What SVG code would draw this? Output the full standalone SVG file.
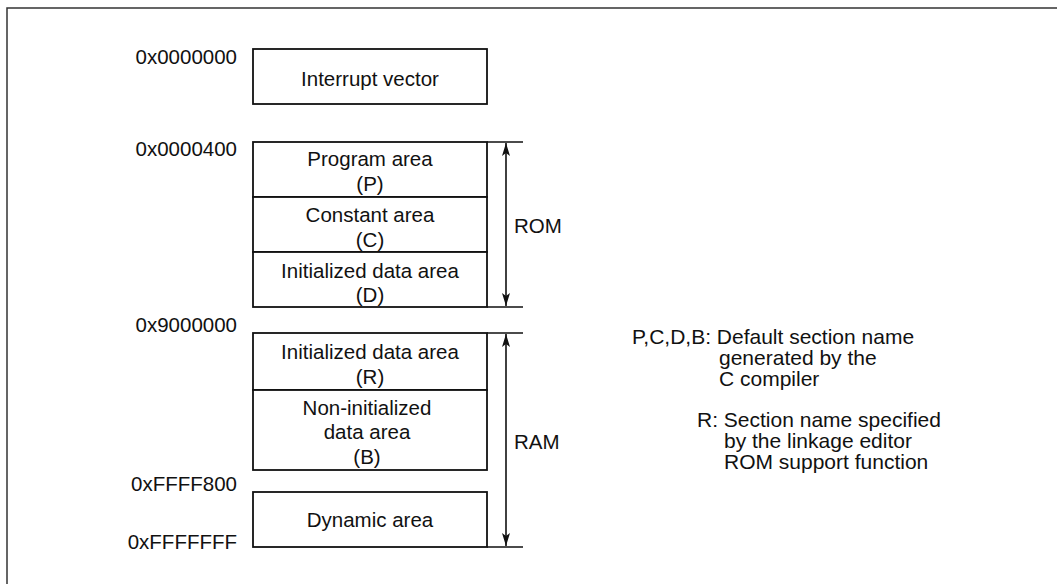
<svg xmlns="http://www.w3.org/2000/svg" width="1057" height="584" viewBox="0 0 1057 584">
<style>
text{font-family:"Liberation Sans",Arial,sans-serif;font-size:20.5px;fill:#111}
.c{text-anchor:middle}
.r{text-anchor:end}
.lg{font-size:21px}
.box{fill:#fff;stroke:#111;stroke-width:1.8}
.ln{stroke:#111;stroke-width:1.6;fill:none}
.ar{stroke:#111;stroke-width:1.6;fill:none;marker-start:url(#ah);marker-end:url(#ah)}
</style>
<defs>
<marker id="ah" viewBox="0 0 13 8" refX="13" refY="4" markerWidth="13" markerHeight="8" markerUnits="userSpaceOnUse" orient="auto-start-reverse">
<path d="M0,0 L13,4 L0,8 L3,4 Z" fill="#111"/>
</marker>
</defs>
<rect width="1057" height="584" fill="#fff"/>
<path d="M7,584 V8 H1057" fill="none" stroke="#333" stroke-width="1.5"/>

<g id="addr-labels">
<text class="r" x="237" y="64">0x0000000</text>
<text class="r" x="237" y="156">0x0000400</text>
<text class="r" x="237" y="332">0x9000000</text>
<text class="r" x="237" y="491">0xFFFF800</text>
<text class="r" x="237" y="549">0xFFFFFFF</text>
</g>

<g id="interrupt-vector">
<rect class="box" x="253" y="49" width="234" height="55"/>
<text class="c" x="370" y="86">Interrupt vector</text>
</g>
<g id="program-area">
<rect class="box" x="253" y="142" width="234" height="55"/>
<text class="c" x="370" y="166">Program area</text>
<text class="c" x="370" y="191">(P)</text>
</g>
<g id="constant-area">
<rect class="box" x="253" y="197" width="234" height="55"/>
<text class="c" x="370" y="222">Constant area</text>
<text class="c" x="370" y="247">(C)</text>
</g>
<g id="init-data-rom">
<rect class="box" x="253" y="252" width="234" height="55"/>
<text class="c" x="370" y="278">Initialized data area</text>
<text class="c" x="370" y="302">(D)</text>
</g>
<g id="init-data-ram">
<rect class="box" x="253" y="333" width="234" height="57"/>
<text class="c" x="370" y="359">Initialized data area</text>
<text class="c" x="370" y="384">(R)</text>
</g>
<g id="non-init-data">
<rect class="box" x="253" y="390" width="234" height="80"/>
<text class="c" x="367" y="415">Non-initialized</text>
<text class="c" x="367" y="439">data area</text>
<text class="c" x="367" y="464">(B)</text>
</g>
<g id="dynamic-area">
<rect class="box" x="253" y="492" width="234" height="55"/>
<text class="c" x="370" y="527">Dynamic area</text>
</g>

<g id="connectors">
<path class="ln" d="M487,142 H523 M487,307 H523 M487,333 H523 M487,547 H523"/>
<path class="ar" d="M506,143 V306"/>
<path class="ar" d="M506,334 V546"/>
</g>

<g id="range-labels">
<text x="514" y="233">ROM</text>
<text x="514" y="449">RAM</text>
</g>

<g id="legend">
<text class="lg" x="632" y="344">P,C,D,B: Default section name</text>
<text class="lg" x="719" y="365">generated by the</text>
<text class="lg" x="719" y="386">C compiler</text>
<text class="lg" x="697" y="427">R: Section name specified</text>
<text class="lg" x="724" y="448">by the linkage editor</text>
<text class="lg" x="724" y="469">ROM support function</text>
</g>
</svg>
